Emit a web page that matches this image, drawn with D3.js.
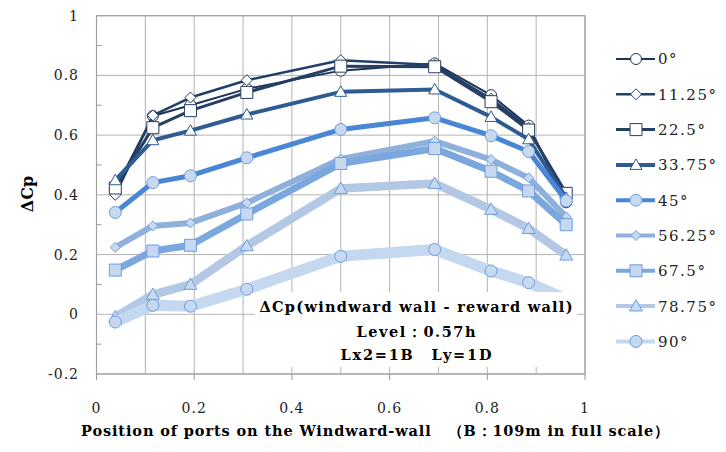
<!DOCTYPE html>
<html><head><meta charset="utf-8">
<script src="https://cdn.jsdelivr.net/npm/d3@7"></script>
<style>
html,body{margin:0;padding:0;background:#fff;}
svg{display:block;}
</style></head>
<body>
<svg id="chart" width="726" height="452"></svg>
<script>
// ---- data ----
const xPositions = [0.0385, 0.1154, 0.1923, 0.3077, 0.5, 0.6923, 0.8077, 0.8846, 0.9615];
const seriesNames = ["0°", "11.25°", "22.5°", "33.75°", "45°", "56.25°", "67.5°", "78.75°", "90°"];
const v0    = [0.420, 0.664, 0.700, 0.755, 0.816, 0.840, 0.734, 0.632, 0.375];
const v1125 = [0.400, 0.666, 0.726, 0.784, 0.851, 0.835, 0.722, 0.625, 0.390];
const v225  = [0.423, 0.625, 0.682, 0.743, 0.831, 0.829, 0.712, 0.617, 0.405];
const v3375 = [0.449, 0.583, 0.615, 0.669, 0.745, 0.753, 0.661, 0.586, 0.390];
const v45   = [0.341, 0.441, 0.464, 0.524, 0.619, 0.658, 0.598, 0.545, 0.380];
const v5625 = [0.224, 0.296, 0.306, 0.373, 0.520, 0.580, 0.518, 0.457, 0.326];
const v675  = [0.148, 0.212, 0.231, 0.336, 0.505, 0.555, 0.479, 0.413, 0.300];
const v7875 = [-0.009, 0.066, 0.100, 0.229, 0.421, 0.438, 0.351, 0.287, 0.198];
const v90   = [-0.026, 0.030, 0.027, 0.084, 0.194, 0.217, 0.145, 0.106, 0.050];
const seriesValues = [v0, v1125, v225, v3375, v45, v5625, v675, v7875, v90];
const xTicks = [0, 0.2, 0.4, 0.6, 0.8, 1];
const xTickLabels = ["0", "0.2", "0.4", "0.6", "0.8", "1"];
const yTicks = [-0.2, 0, 0.2, 0.4, 0.6, 0.8, 1];
const yTickLabels = ["-0.2", "0", "0.2", "0.4", "0.6", "0.8", "1"];
const xTitle = "Position of ports on the Windward-wall\u3000（B：109m in full scale）";
const yTitle = "ΔCp";
const noteLines = ["ΔCp(windward wall - reward wall)", "Level：0.57h", "Lx2=1B\u3000Ly=1D"];

// ---- styles ----
const lineColors = ["#1f3354", "#213f69", "#253f63", "#2f5b93", "#4a86d6", "#8fb0da", "#7ba7df", "#b2c8e4", "#c4d8f0"];
const lineWidths = [2, 2.5, 3, 4, 5, 6, 7, 8.5, 11];
const markerShapes = ["circle", "diamond", "square", "triangle", "circle", "diamond", "square", "triangle", "circle"];
const markerSizes = [11, 11, 12, 12, 12, 10, 12, 13, 12];
const markerFill = (i) => i < 4 ? "#ffffff" : "#c6d9f1";
const markerStroke = (i) => i < 4 ? lineColors[i] : "#6c9ee0";

const svg = d3.select("#chart");
const x = d3.scaleLinear().domain([0, 1]).range([96.5, 585]);
const y = d3.scaleLinear().domain([-0.2, 1]).range([374, 15.7]);
const serif = "'DejaVu Serif', 'Liberation Serif', serif";
const serifB = "'DejaVu Serif', 'Liberation Serif', serif";

// gridlines
const grid = svg.append("g");
grid.selectAll("line.v").data(d3.range(0, 11).map(d => d / 10)).join("line")
  .attr("x1", d => x(d)).attr("x2", d => x(d)).attr("y1", y(1)).attr("y2", y(-0.2))
  .attr("stroke", "#b3b3b3").attr("stroke-width", 1);
grid.selectAll("line.h").data(yTicks).join("line")
  .attr("x1", x(0)).attr("x2", x(1)).attr("y1", d => y(d)).attr("y2", d => y(d))
  .attr("stroke", "#b3b3b3").attr("stroke-width", 1);
// minor ticks on the left (inside)
grid.selectAll("line.m").data(d3.range(-1, 10, 2).map(d => d / 10)).join("line")
  .attr("x1", x(0)).attr("x2", x(0) + 5).attr("y1", d => y(d)).attr("y2", d => y(d))
  .attr("stroke", "#999").attr("stroke-width", 1);
// bottom ticks
grid.selectAll("line.b").data(xTicks).join("line")
  .attr("x1", d => x(d)).attr("x2", d => x(d)).attr("y1", y(-0.2)).attr("y2", y(-0.2) + 6)
  .attr("stroke", "#999").attr("stroke-width", 1);
// axis frame
svg.append("rect").attr("x", x(0)).attr("y", y(1)).attr("width", x(1) - x(0)).attr("height", y(-0.2) - y(1))
  .attr("fill", "none").attr("stroke", "#a0a0a0").attr("stroke-width", 1.2);

// tick labels
svg.append("g").selectAll("text").data(yTicks).join("text")
  .attr("x", 79).attr("y", d => y(d)).attr("dy", "0.36em").attr("text-anchor", "end")
  .attr("font-family", serif).attr("font-size", 14).attr("letter-spacing", 1)
  .attr("fill", "#222").text((d, i) => yTickLabels[i]);
svg.append("g").selectAll("text").data(xTicks).join("text")
  .attr("x", d => x(d)).attr("y", 408).attr("dy", "0.36em").attr("text-anchor", "middle")
  .attr("font-family", serif).attr("font-size", 14).attr("letter-spacing", 1)
  .attr("fill", "#222").text((d, i) => xTickLabels[i]);

// titles
svg.append("text").attr("x", 375).attr("y", 431).attr("dy", "0.36em").attr("text-anchor", "middle")
  .attr("font-family", serifB).attr("font-weight", "bold").attr("font-size", 14.5)
  .attr("textLength", 588).attr("lengthAdjust", "spacing").text(xTitle);
svg.append("text").attr("transform", "translate(27,194) rotate(-90)").attr("dy", "0.36em")
  .attr("text-anchor", "middle").attr("font-family", serifB).attr("font-weight", "bold")
  .attr("font-size", 16).text(yTitle);

// symbols
function symbolPath(shape, s) {
  const h = s / 2;
  if (shape === "circle") return d3.symbol(d3.symbolCircle, Math.PI * h * h)();
  if (shape === "square") return `M${-h},${-h}H${h}V${h}H${-h}Z`;
  if (shape === "diamond") return `M0,${-h}L${h},0L0,${h}L${-h},0Z`;
  if (shape === "triangle") return `M0,${-h}L${h},${h * 0.75}L${-h},${h * 0.75}Z`;
}

const line = d3.line().x(d => x(d[0])).y(d => y(d[1]));
seriesValues.forEach((vals, i) => {
  const pts = vals.map((v, j) => [xPositions[j], v]);
  const g = svg.append("g");
  g.append("path").attr("d", line(pts)).attr("fill", "none")
    .attr("stroke", lineColors[i]).attr("stroke-width", lineWidths[i])
    .attr("stroke-linejoin", "round");
  g.selectAll("path.mk").data(pts).join("path").attr("class", "mk")
    .attr("transform", d => `translate(${x(d[0])},${y(d[1])})`)
    .attr("d", symbolPath(markerShapes[i], markerSizes[i]))
    .attr("fill", markerFill(i)).attr("stroke", markerStroke(i)).attr("stroke-width", 1);
});

// annotation box
svg.append("rect").attr("x", 255).attr("y", 292).attr("width", 322).attr("height", 75).attr("fill", "#fff");
const noteY = [307, 332, 355];
const noteW = [313, 119, 151];
svg.append("g").selectAll("text").data(noteLines).join("text")
  .attr("x", 416).attr("y", (d, i) => noteY[i]).attr("dy", "0.36em").attr("text-anchor", "middle")
  .attr("font-family", serifB).attr("font-weight", "bold").attr("font-size", 14.5)
  .attr("textLength", (d, i) => noteW[i]).attr("lengthAdjust", "spacing")
  .text(d => d);

// legend
const lg = svg.append("g");
seriesNames.forEach((name, i) => {
  const ly = 59 + i * 35.3;
  lg.append("line").attr("x1", 616).attr("x2", 655).attr("y1", ly).attr("y2", ly)
    .attr("stroke", lineColors[i]).attr("stroke-width", Math.min(lineWidths[i], 4));
  lg.append("path").attr("transform", `translate(636,${ly})`)
    .attr("d", symbolPath(markerShapes[i], markerSizes[i]))
    .attr("fill", markerFill(i)).attr("stroke", markerStroke(i)).attr("stroke-width", 1);
  lg.append("text").attr("x", 658).attr("y", ly).attr("dy", "0.36em")
    .attr("font-family", serif).attr("font-size", 15).attr("letter-spacing", 1.5)
    .attr("fill", "#222").text(name);
});
</script>
</body></html>
